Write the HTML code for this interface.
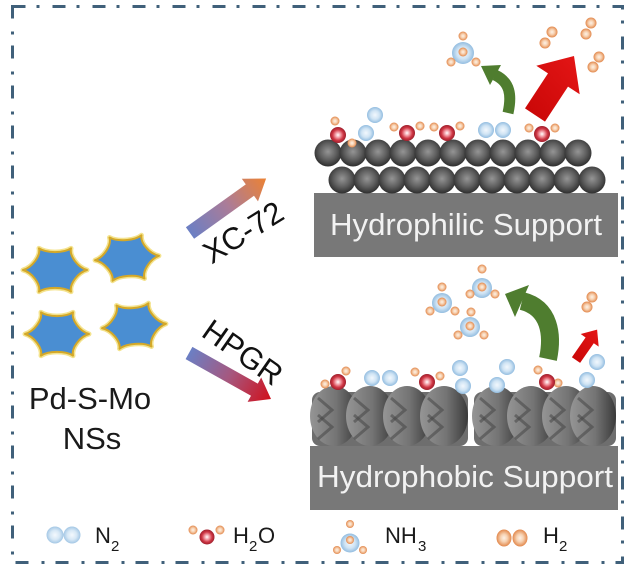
<!DOCTYPE html>
<html>
<head>
<meta charset="utf-8">
<style>
html,body{margin:0;padding:0;background:#fff;}
svg{display:block;}
text{font-family:"Liberation Sans",Arial,sans-serif;}
</style>
</head>
<body>
<svg width="633" height="573" viewBox="0 0 633 573" xmlns="http://www.w3.org/2000/svg">
<defs>
  <radialGradient id="gC" cx="50%" cy="45%" r="55%">
    <stop offset="0" stop-color="#959595"/>
    <stop offset="0.55" stop-color="#606060"/>
    <stop offset="1" stop-color="#2e2e2e"/>
  </radialGradient>
  <radialGradient id="gN" cx="50%" cy="50%" r="50%">
    <stop offset="0" stop-color="#f2f8fd"/>
    <stop offset="0.55" stop-color="#d0e4f4"/>
    <stop offset="1" stop-color="#93bde0"/>
  </radialGradient>
  <radialGradient id="gO" cx="50%" cy="50%" r="50%">
    <stop offset="0" stop-color="#ffffff"/>
    <stop offset="0.3" stop-color="#f4a6ae"/>
    <stop offset="0.68" stop-color="#cf3644"/>
    <stop offset="1" stop-color="#9e1f2c"/>
  </radialGradient>
  <radialGradient id="gH" cx="50%" cy="50%" r="50%">
    <stop offset="0" stop-color="#fdf1e6"/>
    <stop offset="0.45" stop-color="#f7d2b2"/>
    <stop offset="1" stop-color="#e2884c"/>
  </radialGradient>
  <linearGradient id="gLump" x1="0" y1="0" x2="1" y2="0">
    <stop offset="0" stop-color="#959595"/>
    <stop offset="0.55" stop-color="#747474"/>
    <stop offset="1" stop-color="#3a3a3a"/>
  </linearGradient>
  <linearGradient id="gXC" gradientUnits="userSpaceOnUse" x1="190" y1="233" x2="266" y2="178">
    <stop offset="0" stop-color="#6b7fc4"/>
    <stop offset="0.5" stop-color="#ab7c98"/>
    <stop offset="1" stop-color="#ec8234"/>
  </linearGradient>
  <linearGradient id="gHP" gradientUnits="userSpaceOnUse" x1="189" y1="353" x2="271" y2="399">
    <stop offset="0" stop-color="#6b7fc4"/>
    <stop offset="0.5" stop-color="#a6577e"/>
    <stop offset="1" stop-color="#d0101c"/>
  </linearGradient>
  <linearGradient id="gRed" x1="0" y1="1" x2="1" y2="0">
    <stop offset="0" stop-color="#c80606"/>
    <stop offset="1" stop-color="#e41616"/>
  </linearGradient>
  <path id="star" d="M32,0 C22.81,2.5 14.19,14.18 16,21.65 C8.63,16.69 -8.63,16.69 -16,21.65 C-14.19,14.18 -22.81,2.5 -32,0 C-22.81,-2.5 -14.19,-14.18 -16,-21.65 C-8.63,-16.69 8.63,-16.69 16,-21.65 C14.19,-14.18 22.81,-2.5 32,0 Z"/>
</defs>

<!-- outer dash-dot border -->
<rect x="12.5" y="6.5" width="610" height="556" fill="none" stroke="#40607a" stroke-width="3" stroke-dasharray="13 11 3 13"/>

<!-- stars -->
<g fill="#4a8ed2" stroke="#f4e38e" stroke-width="5" stroke-linejoin="round">
  <use href="#star" transform="translate(55,270)"/>
  <use href="#star" transform="translate(127,258) rotate(-4)"/>
  <use href="#star" transform="translate(57,334)"/>
  <use href="#star" transform="translate(134,326) rotate(-4)"/>
</g>
<g fill="#4a8ed2" stroke="#d4a828" stroke-width="2" stroke-linejoin="round">
  <use href="#star" transform="translate(55,270)"/>
  <use href="#star" transform="translate(127,258) rotate(-4)"/>
  <use href="#star" transform="translate(57,334)"/>
  <use href="#star" transform="translate(134,326) rotate(-4)"/>
</g>

<text x="90" y="409" font-size="31" fill="#1a1a1a" text-anchor="middle">Pd-S-Mo</text>
<text x="92" y="449" font-size="31" fill="#1a1a1a" text-anchor="middle">NSs</text>

<!-- XC-72 arrow -->
<polygon points="185.9,227.3 245.8,184.4 241.8,178.8 266.1,178.5 258,201.4 254,195.8 194.1,238.7" fill="url(#gXC)"/>
<text transform="translate(243,232) rotate(-32)" x="0" y="11" font-size="31" fill="#111" text-anchor="middle">XC-72</text>

<!-- HPGR arrow -->
<polygon points="192.4,346.9 257.8,383.6 261.2,377.5 271,399 247.6,401.9 251,395.8 185.6,359.1" fill="url(#gHP)"/>
<text transform="translate(243,352) rotate(35)" x="0" y="11" font-size="31" fill="#111" text-anchor="middle">HPGR</text>

<!-- Hydrophilic support -->
<rect x="314" y="193" width="304" height="64" fill="#787878"/>
<text x="330" y="235" font-size="31" fill="#f2f2f2" textLength="272" lengthAdjust="spacingAndGlyphs">Hydrophilic Support</text>

<g fill="url(#gC)">
  <circle cx="328" cy="153" r="13.5"/><circle cx="353" cy="153" r="13.5"/><circle cx="378" cy="153" r="13.5"/>
  <circle cx="403" cy="153" r="13.5"/><circle cx="428" cy="153" r="13.5"/><circle cx="453" cy="153" r="13.5"/>
  <circle cx="478" cy="153" r="13.5"/><circle cx="503" cy="153" r="13.5"/><circle cx="528" cy="153" r="13.5"/>
  <circle cx="553" cy="153" r="13.5"/><circle cx="578" cy="153" r="13.5"/>
  <circle cx="342" cy="180" r="13.5"/><circle cx="367" cy="180" r="13.5"/><circle cx="392" cy="180" r="13.5"/>
  <circle cx="417" cy="180" r="13.5"/><circle cx="442" cy="180" r="13.5"/><circle cx="467" cy="180" r="13.5"/>
  <circle cx="492" cy="180" r="13.5"/><circle cx="517" cy="180" r="13.5"/><circle cx="542" cy="180" r="13.5"/>
  <circle cx="567" cy="180" r="13.5"/><circle cx="592" cy="180" r="13.5"/>
</g>

<!-- top surface molecules -->
<g>
  <circle cx="335" cy="121" r="4.5" fill="url(#gH)"/><circle cx="352" cy="143" r="4.5" fill="url(#gH)"/>
  <circle cx="338" cy="135" r="8" fill="url(#gO)"/>
  <circle cx="375" cy="115" r="8" fill="url(#gN)"/><circle cx="366" cy="133" r="8" fill="url(#gN)"/>
  <circle cx="394" cy="127" r="4.5" fill="url(#gH)"/><circle cx="420" cy="126" r="4.5" fill="url(#gH)"/>
  <circle cx="407" cy="133" r="8" fill="url(#gO)"/>
  <circle cx="434" cy="127" r="4.5" fill="url(#gH)"/><circle cx="460" cy="126" r="4.5" fill="url(#gH)"/>
  <circle cx="447" cy="133" r="8" fill="url(#gO)"/>
  <circle cx="486" cy="130" r="8" fill="url(#gN)"/><circle cx="503" cy="130" r="8" fill="url(#gN)"/>
  <circle cx="529" cy="128" r="4.5" fill="url(#gH)"/><circle cx="555" cy="128" r="4.5" fill="url(#gH)"/>
  <circle cx="542" cy="134" r="8" fill="url(#gO)"/>
</g>

<!-- top NH3 -->
<g>
  <circle cx="463" cy="53" r="11" fill="url(#gN)"/>
  <circle cx="463" cy="36" r="4.5" fill="url(#gH)"/>
  <circle cx="451" cy="62" r="4.5" fill="url(#gH)"/>
  <circle cx="476" cy="62" r="4.5" fill="url(#gH)"/>
  <circle cx="463" cy="52" r="4.5" fill="url(#gH)"/>
</g>

<!-- top H2 -->
<g fill="url(#gH)">
  <circle cx="552" cy="32" r="5.5"/><circle cx="545" cy="43" r="5.5"/>
  <circle cx="591" cy="23" r="5.5"/><circle cx="586" cy="34" r="5.5"/>
  <circle cx="599" cy="57" r="5.5"/><circle cx="593" cy="67" r="5.5"/>
</g>

<!-- top green arrow -->
<path d="M508,113 C512,95 510,82 495,75" stroke="#4f7d2f" stroke-width="11" fill="none"/>
<polygon points="481,66 501,65 490,85" fill="#4f7d2f"/>

<!-- top red arrow -->
<polygon points="525,108.4 548,73.4 536.3,65.7 574,56 579.7,94.3 568,86.6 545,121.6" fill="url(#gRed)"/>

<!-- Hydrophobic graphite blocks -->
<rect x="312" y="392" width="156" height="54" rx="8" fill="#6e6e6e"/>
<rect x="474" y="392" width="142" height="54" rx="8" fill="#6e6e6e"/>
<g>
  <ellipse cx="334" cy="416" rx="24" ry="30" fill="url(#gLump)"/>
  <ellipse cx="370" cy="416" rx="24" ry="30" fill="url(#gLump)"/>
  <ellipse cx="407" cy="416" rx="24" ry="30" fill="url(#gLump)"/>
  <ellipse cx="444" cy="416" rx="24" ry="30" fill="url(#gLump)"/>
  <ellipse cx="496" cy="416" rx="24" ry="30" fill="url(#gLump)"/>
  <ellipse cx="531" cy="416" rx="24" ry="30" fill="url(#gLump)"/>
  <ellipse cx="566" cy="416" rx="24" ry="30" fill="url(#gLump)"/>
  <ellipse cx="593" cy="416" rx="23" ry="30" fill="url(#gLump)"/>
</g>
<g fill="none" stroke="#454545" stroke-width="3" stroke-opacity="0.55">
  <polyline points="318,398 332,410 318,422"/><polyline points="318,415 332,427 318,439"/>
  <polyline points="354,398 368,410 354,422"/><polyline points="354,415 368,427 354,439"/>
  <polyline points="391,398 405,410 391,422"/><polyline points="391,415 405,427 391,439"/>
  <polyline points="428,398 442,410 428,422"/><polyline points="428,415 442,427 428,439"/>
  <polyline points="480,398 494,410 480,422"/><polyline points="480,415 494,427 480,439"/>
  <polyline points="515,398 529,410 515,422"/><polyline points="515,415 529,427 515,439"/>
  <polyline points="550,398 564,410 550,422"/><polyline points="550,415 564,427 550,439"/>
  <polyline points="578,398 592,410 578,422"/><polyline points="578,415 592,427 578,439"/>
</g>

<!-- Hydrophobic support -->
<rect x="310" y="446" width="308" height="64" fill="#787878"/>
<text x="317" y="487" font-size="31" fill="#f2f2f2" textLength="296" lengthAdjust="spacingAndGlyphs">Hydrophobic Support</text>

<!-- bottom surface molecules -->
<g>
  <circle cx="325" cy="384" r="4.5" fill="url(#gH)"/><circle cx="346" cy="371" r="4.5" fill="url(#gH)"/>
  <circle cx="338" cy="382" r="8" fill="url(#gO)"/>
  <circle cx="372" cy="378" r="8" fill="url(#gN)"/><circle cx="390" cy="378" r="8" fill="url(#gN)"/>
  <circle cx="415" cy="372" r="4.5" fill="url(#gH)"/><circle cx="440" cy="376" r="4.5" fill="url(#gH)"/>
  <circle cx="427" cy="382" r="8" fill="url(#gO)"/>
  <circle cx="460" cy="368" r="8" fill="url(#gN)"/><circle cx="463" cy="386" r="8" fill="url(#gN)"/>
  <circle cx="507" cy="367" r="8" fill="url(#gN)"/><circle cx="497" cy="385" r="8" fill="url(#gN)"/>
  <circle cx="538" cy="370" r="4.5" fill="url(#gH)"/><circle cx="558" cy="383" r="4.5" fill="url(#gH)"/>
  <circle cx="547" cy="382" r="8" fill="url(#gO)"/>
  <circle cx="597" cy="362" r="8" fill="url(#gN)"/><circle cx="587" cy="380" r="8" fill="url(#gN)"/>
</g>

<!-- bottom NH3 -->
<g>
  <circle cx="442" cy="303" r="10" fill="url(#gN)"/>
  <circle cx="442" cy="287" r="4.5" fill="url(#gH)"/><circle cx="430" cy="311" r="4.5" fill="url(#gH)"/>
  <circle cx="455" cy="311" r="4.5" fill="url(#gH)"/><circle cx="442" cy="302" r="4.5" fill="url(#gH)"/>

  <circle cx="482" cy="288" r="10" fill="url(#gN)"/>
  <circle cx="482" cy="269" r="4.5" fill="url(#gH)"/><circle cx="470" cy="294" r="4.5" fill="url(#gH)"/>
  <circle cx="495" cy="294" r="4.5" fill="url(#gH)"/><circle cx="482" cy="287" r="4.5" fill="url(#gH)"/>

  <circle cx="470" cy="327" r="10" fill="url(#gN)"/>
  <circle cx="471" cy="312" r="4.5" fill="url(#gH)"/><circle cx="458" cy="335" r="4.5" fill="url(#gH)"/>
  <circle cx="484" cy="335" r="4.5" fill="url(#gH)"/><circle cx="470" cy="326" r="4.5" fill="url(#gH)"/>
</g>

<!-- bottom H2 -->
<circle cx="592" cy="297" r="5.5" fill="url(#gH)"/><circle cx="587" cy="307" r="5.5" fill="url(#gH)"/>

<!-- bottom green arrow -->
<path d="M548,359 C553,335 550,308 522,301" stroke="#4f7d2f" stroke-width="18" fill="none"/>
<polygon points="505,294 529,285 515,317" fill="#4f7d2f"/>

<!-- bottom red arrow -->
<polygon points="571.9,357.2 585.6,337.5 580.7,334 597.1,329.6 598.7,346.6 593.8,343.2 580.1,362.9" fill="url(#gRed)"/>

<!-- legend -->
<g>
  <circle cx="55" cy="535" r="8.5" fill="url(#gN)" opacity="0.85"/>
  <circle cx="72" cy="535" r="8.5" fill="url(#gN)" opacity="0.85"/>
  <text x="95" y="543" font-size="22" fill="#1a1a1a">N</text>
  <text x="111" y="551" font-size="15" fill="#1a1a1a">2</text>

  <circle cx="193" cy="530" r="4.5" fill="url(#gH)"/><circle cx="220" cy="530" r="4.5" fill="url(#gH)"/>
  <circle cx="207" cy="537" r="7.5" fill="url(#gO)"/>
  <text x="233" y="543" font-size="22" fill="#1a1a1a">H</text>
  <text x="249" y="551" font-size="15" fill="#1a1a1a">2</text>
  <text x="258" y="543" font-size="22" fill="#1a1a1a">O</text>

  <circle cx="350" cy="543" r="9.5" fill="url(#gN)"/>
  <circle cx="350" cy="524" r="4" fill="url(#gH)"/>
  <circle cx="337" cy="550" r="4" fill="url(#gH)"/>
  <circle cx="363" cy="550" r="4" fill="url(#gH)"/>
  <circle cx="350" cy="540" r="4" fill="url(#gH)"/>
  <text x="385" y="543" font-size="22" fill="#1a1a1a">NH</text>
  <text x="418" y="551" font-size="15" fill="#1a1a1a">3</text>

  <ellipse cx="504" cy="538" rx="7.5" ry="8.5" fill="url(#gH)"/>
  <ellipse cx="520" cy="538" rx="7.5" ry="8.5" fill="url(#gH)"/>
  <text x="543" y="543" font-size="22" fill="#1a1a1a">H</text>
  <text x="559" y="551" font-size="15" fill="#1a1a1a">2</text>
</g>
</svg>
</body>
</html>
